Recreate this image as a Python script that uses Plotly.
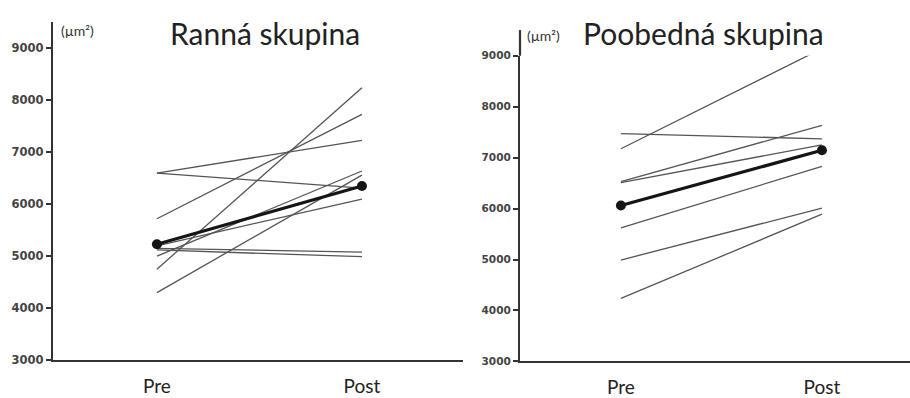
import plotly.graph_objects as go

categories = ["Pre", "Post"]

# Ranná skupina (morning group): individual subjects, pre and post
morning_pre = [6600, 6600, 5720, 5200, 5150, 5120, 5000, 4750, 4300]
morning_post = [7230, 6310, 7730, 6100, 5080, 4990, 6640, 8240, 6560]
morning_mean = [5230, 6350]

# Poobedná skupina (afternoon group)
afternoon_pre = [7470, 7175, 6530, 6510, 5620, 4990, 4235]
afternoon_post = [7370, 9140, 7635, 7250, 6830, 6010, 5890]
afternoon_mean = [6060, 7145]

y_ticks = [3000, 4000, 5000, 6000, 7000, 8000, 9000]
titles = ["Ranná skupina", "Poobedná skupina"]
unit_label = "(µm²)"

GREY = "#555555"
AXIS = "#333333"

fig = go.Figure()

def add_group(pre, post, mean, xa, ya):
    for a, b in zip(pre, post):
        fig.add_trace(go.Scatter(x=categories, y=[a, b], mode="lines",
                                 line=dict(color=GREY, width=1.3),
                                 xaxis=xa, yaxis=ya, showlegend=False,
                                 hoverinfo="skip"))
    fig.add_trace(go.Scatter(x=categories, y=mean, mode="lines+markers",
                             line=dict(color="#151515", width=3.2),
                             marker=dict(color="#151515", size=10),
                             xaxis=xa, yaxis=ya, showlegend=False))

add_group(morning_pre, morning_post, morning_mean, "x", "y")
add_group(afternoon_pre, afternoon_post, afternoon_mean, "x2", "y2")

W, H = 910, 398

def xaxis_cfg(domain, rng, anchor):
    return dict(domain=domain, range=rng, anchor=anchor, type="category",
                showline=True, linecolor=AXIS, linewidth=2.2,
                showgrid=False, zeroline=False, ticks="", ticklen=0,
                ticklabelstandoff=8,
                tickfont=dict(family="Lato", size=19, color="#222222"),
                fixedrange=True)

def yaxis_cfg(domain, rng, anchor, size):
    return dict(domain=domain, range=rng, anchor=anchor,
                showline=True, linecolor=AXIS, linewidth=2.2,
                showgrid=False, zeroline=False,
                tickmode="array", tickvals=y_ticks,
                ticktext=[str(t) for t in y_ticks],
                ticks="outside", ticklen=5, tickwidth=2, tickcolor=AXIS,
                tickfont=dict(family="DejaVu Sans", size=size, color="#444444",
                              weight="bold"),
                fixedrange=True)

fig.update_layout(
    width=W, height=H,
    margin=dict(l=0, r=0, t=0, b=0),
    paper_bgcolor="white", plot_bgcolor="white",
    xaxis=xaxis_cfg([53 / W, 463 / W], [-0.507, 1.493], "y"),
    yaxis=yaxis_cfg([(H - 368) / H, (H - 17) / H], [3000, 9500], "x", 11.5),
    xaxis2=xaxis_cfg([520 / W, 1.0], [-0.502, 1.438], "y2"),
    yaxis2=yaxis_cfg([(H - 369.3) / H, (H - 51.7) / H], [3000, 9000], "x2", 10.5),
    shapes=[dict(type="line", xref="paper", yref="paper",
                 x0=520 / W, x1=520 / W, y0=(H - 51.7) / H, y1=(H - 25) / H,
                 line=dict(color=AXIS, width=2.2))],
    annotations=[
        dict(text=titles[0], x=265 / W, y=(H - 28) / H, xref="paper", yref="paper",
             showarrow=False, xanchor="center", yanchor="middle",
             font=dict(family="Lato", size=30, color="#222222")),
        dict(text=titles[1], x=703 / W, y=(H - 28) / H, xref="paper", yref="paper",
             showarrow=False, xanchor="center", yanchor="middle",
             font=dict(family="Lato", size=30, color="#222222")),
        dict(text=unit_label, x=59 / W, y=(H - 25) / H, xref="paper", yref="paper",
             showarrow=False, xanchor="left", yanchor="middle",
             font=dict(family="Lato", size=14, color="#333333")),
        dict(text=unit_label, x=525 / W, y=(H - 31) / H, xref="paper", yref="paper",
             showarrow=False, xanchor="left", yanchor="middle",
             font=dict(family="Lato", size=14, color="#333333")),
    ],
)

fig.write_html("out.html", config={"displayModeBar": False})
